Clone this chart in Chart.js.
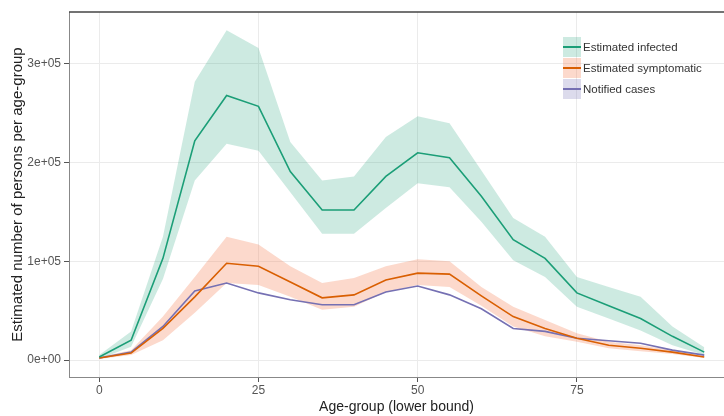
<!DOCTYPE html>
<html>
<head>
<meta charset="utf-8">
<script src="https://cdn.jsdelivr.net/npm/chart.js@4"></script>
<style>
  html, body { margin: 0; padding: 0; background: #fff; }
  #wrap { position: relative; width: 724px; height: 416px; font-family: "Liberation Sans", Arial, sans-serif; }
  #legend { position: absolute; left: 563px; top: 36px; }
  .item { display: flex; align-items: center; height: 21px; }
  .key { position: relative; width: 18px; height: 20px; margin-right: 2px; }
  .key span { position: absolute; left: 0; right: 0; top: 9px; height: 2px; }
  .lab { font-size: 11.5px; color: #333; }
</style>
</head>
<body>
<div id="wrap">
  <canvas id="chart" width="724" height="416"></canvas>
  <div id="legend"></div>
</div>
<script>
// ================= Dữ liệu =================
const ages = [0, 5, 10, 15, 20, 25, 30, 35, 40, 45, 50, 55, 60, 65, 70, 75, 80, 85, 90, 95];

const infected     = [3000, 20000, 103000, 222000, 268000, 257000, 191000, 152000, 152000, 186000, 210000, 205000, 166000, 122000, 103000, 68000, 55000, 42000, 24000, 8000];
const infectedLow  = [1000, 13500, 82000, 182000, 219000, 212000, 170000, 128000, 128000, 154000, 179000, 175000, 140000, 101000, 84000, 54000, 42000, 30000, 15000, 5000];
const infectedHigh = [5000, 29000, 125000, 282000, 334000, 316000, 221000, 182000, 186000, 226000, 247000, 240000, 192000, 144000, 125000, 84000, 74000, 64000, 34000, 13000];

const symptomatic     = [2000, 7000, 32000, 64000, 98000, 95000, 79000, 63000, 66000, 81000, 88000, 87000, 65000, 44000, 32000, 22000, 15000, 12000, 8000, 3000];
const symptomaticLow  = [1000, 5000, 20000, 48000, 78000, 76000, 64000, 51000, 54000, 69000, 76000, 74000, 55000, 34000, 24000, 18500, 12000, 9000, 6000, 2000];
const symptomaticHigh = [3000, 10000, 44000, 84000, 125000, 117000, 95000, 78000, 83000, 95000, 102000, 100000, 74000, 54000, 40500, 27000, 18500, 15000, 10000, 4000];

const notified = [2000, 8000, 34000, 70000, 78000, 68000, 61000, 56000, 56000, 69000, 75000, 66000, 52000, 32000, 29000, 22000, 19500, 17000, 10000, 5000];

const xTicks = [0, 25, 50, 75];
const yTicks = [0, 100000, 200000, 300000];

const legendItems = [
  { label: 'Estimated infected', line: '#1b9e77', fill: 'rgba(27,158,119,0.22)' },
  { label: 'Estimated symptomatic', line: '#d95f02', fill: 'rgba(245,140,100,0.33)' },
  { label: 'Notified cases', line: '#7570b3', fill: 'rgba(117,112,179,0.25)' }
];

// ================= Helpers =================
const pts = arr => arr.map((v, i) => ({ x: ages[i], y: v }));

function sci(v) {
  return v.toExponential(0).replace(/e([+-])(\d)$/, 'e$10$2');
}

function band(arr, fillTo, color) {
  return {
    data: pts(arr), borderWidth: 0, pointRadius: 0,
    fill: fillTo, backgroundColor: color, order: 2
  };
}

function line(arr, color) {
  return {
    data: pts(arr), borderColor: color, borderWidth: 1.6,
    pointRadius: 0, fill: false, order: 0
  };
}

// khung viền trên
const topBorder = {
  id: 'topBorder',
  afterDraw(chart) {
    const { ctx, chartArea: a } = chart;
    ctx.save();
    ctx.strokeStyle = '#444';
    ctx.lineWidth = 1.5;
    ctx.beginPath();
    ctx.moveTo(a.left, a.top);
    ctx.lineTo(a.right, a.top);
    ctx.stroke();
    ctx.restore();
  }
};

// ================= Biểu đồ =================
new Chart(document.getElementById('chart'), {
  type: 'line',
  data: {
    datasets: [
      line(infected, '#1b9e77'),
      line(symptomatic, '#d95f02'),
      line(notified, '#7570b3'),
      band(infectedHigh, '+1', 'rgba(27,158,119,0.22)'),
      band(infectedLow, false, 'rgba(0,0,0,0)'),
      band(symptomaticHigh, '+1', 'rgba(245,140,100,0.33)'),
      band(symptomaticLow, false, 'rgba(0,0,0,0)')
    ]
  },
  options: {
    responsive: false,
    animation: false,
    layout: { padding: { top: 12, right: 0, left: 0, bottom: 0 } },
    plugins: { legend: { display: false }, tooltip: { enabled: false } },
    scales: {
      x: {
        type: 'linear',
        min: -4.75, max: 98.1,
        afterBuildTicks: s => { s.ticks = xTicks.map(v => ({ value: v })); },
        afterFit: s => { s.height = 39; },
        grid: { color: '#ebebeb', tickColor: '#555', tickLength: 5 },
        border: { color: '#888' },
        ticks: { color: '#555', font: { size: 12, family: 'Liberation Sans' }, padding: 1 },
        title: {
          display: true, text: 'Age-group (lower bound)', color: '#222',
          font: { size: 14, family: 'Liberation Sans' }, padding: { top: 0, bottom: 0 }
        }
      },
      y: {
        min: -17200, max: 352600,
        afterBuildTicks: s => { s.ticks = yTicks.map(v => ({ value: v })); },
        afterFit: s => { s.width = 69; },
        grid: { color: '#ebebeb', tickColor: '#555', tickLength: 5 },
        border: { color: '#888' },
        ticks: { color: '#555', font: { size: 12, family: 'Liberation Sans' }, padding: 3, callback: v => sci(v) },
        title: {
          display: true, text: 'Estimated number of persons per age-group', color: '#222',
          font: { size: 15, family: 'Liberation Sans' }, padding: { top: 9, bottom: 0 }
        }
      }
    }
  },
  plugins: [topBorder]
});

// ================= Chú thích =================
const legend = document.getElementById('legend');
legendItems.forEach(it => {
  const row = document.createElement('div');
  row.className = 'item';
  row.innerHTML = `<div class="key" style="background:${it.fill}"><span style="background:${it.line}"></span></div><div class="lab">${it.label}</div>`;
  legend.appendChild(row);
});
</script>
</body>
</html>
